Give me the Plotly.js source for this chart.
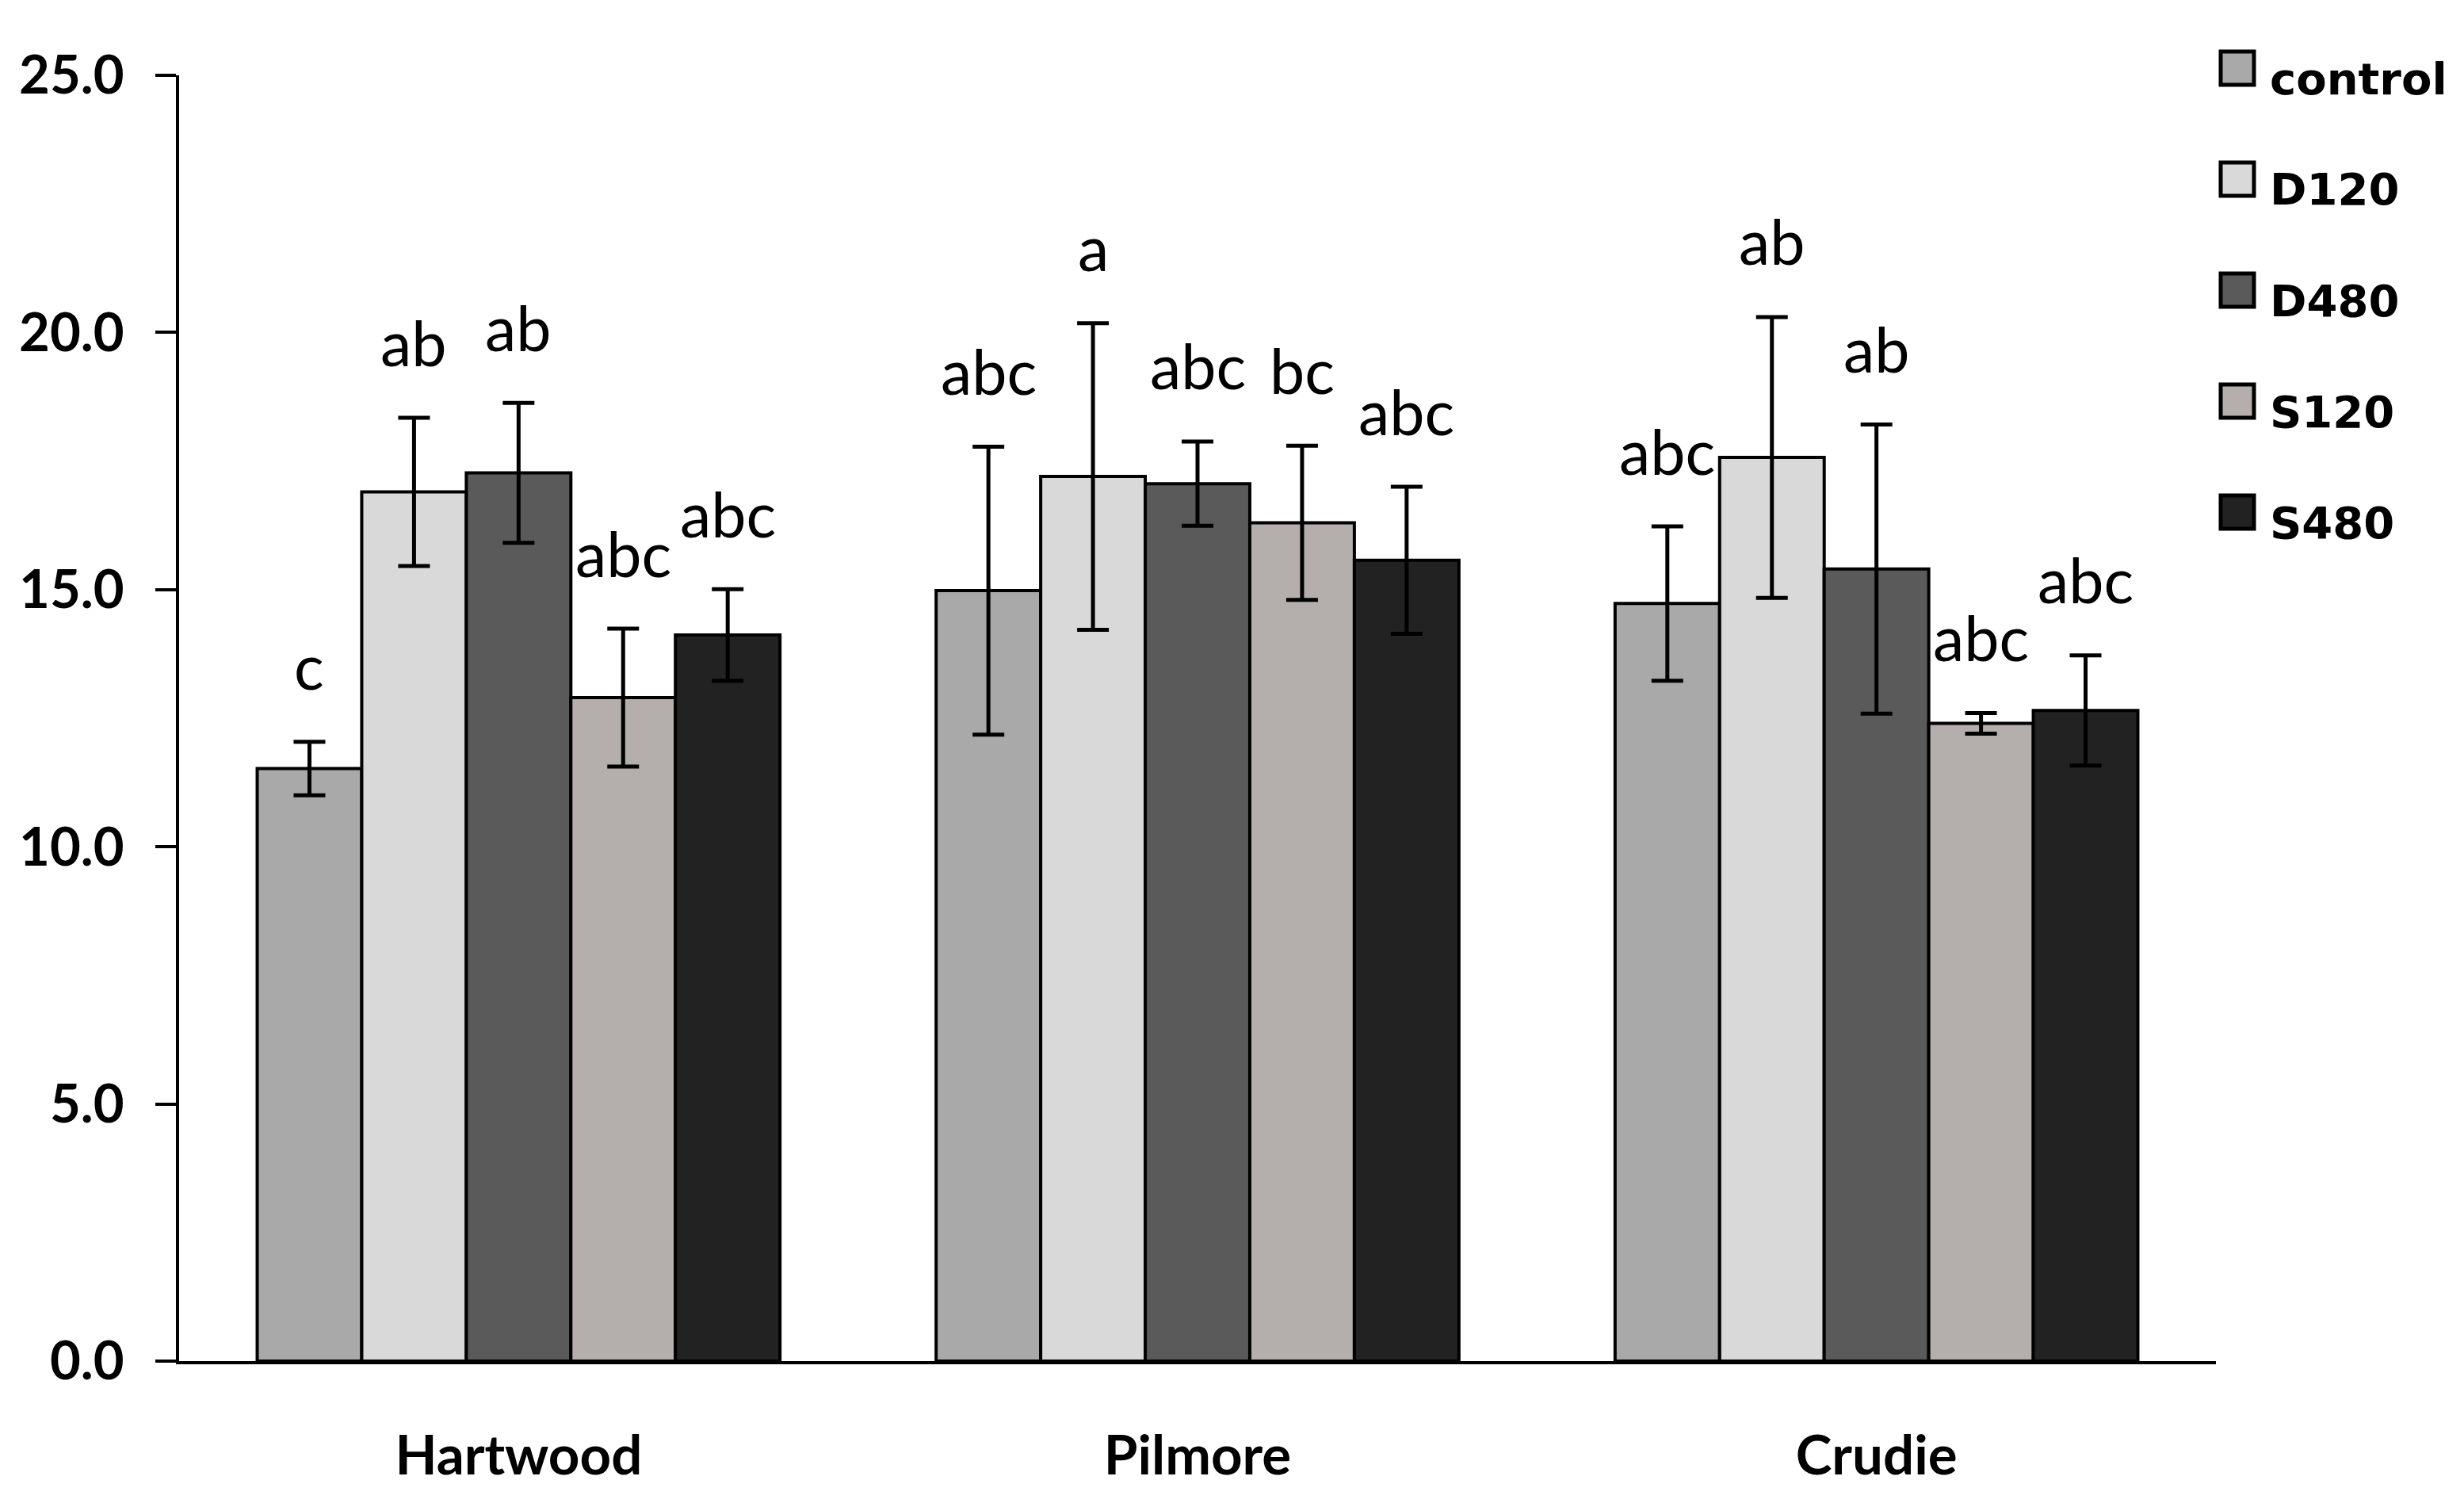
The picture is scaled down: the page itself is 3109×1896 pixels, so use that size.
<!DOCTYPE html>
<html><head><meta charset="utf-8">
<script src="https://cdn.plot.ly/plotly-3.0.1.min.js"></script>
<style>html,body{margin:0;padding:0;background:#fff}#chart{width:3109px;height:1896px}</style>
</head><body><div id="chart"></div>
<script>
// ---- data ----
const sites = ['Hartwood', 'Pilmore', 'Crudie'];
const treatments = ['control', 'D120', 'D480', 'S120', 'S480'];

const controlMean = [11.52, 14.98, 14.73];
const controlErr  = [0.52, 2.80, 1.50];
const d120Mean    = [16.90, 17.20, 17.57];
const d120Err     = [1.44, 2.98, 2.73];
const d480Mean    = [17.27, 17.06, 15.40];
const d480Err     = [1.36, 0.82, 2.81];
const s120Mean    = [12.90, 16.30, 12.40];
const s120Err     = [1.34, 1.50, 0.20];
const s480Mean    = [14.12, 15.57, 12.65];
const s480Err     = [0.89, 1.43, 1.07];

const controlLetters = ['c', 'abc', 'abc'];
const d120Letters    = ['ab', 'a', 'ab'];
const d480Letters    = ['ab', 'abc', 'ab'];
const s120Letters    = ['abc', 'bc', 'abc'];
const s480Letters    = ['abc', 'abc', 'abc'];

const yTickVals = [0, 5, 10, 15, 20, 25];

// ---- styles ----
const colors = ['#a9a9a9', '#d9d9d9', '#5a5a5a', '#b4afac', '#222222'];
const W = 3109, H = 1896;
const M = {l: 226, r: 313, t: 95, b: 179};
const BARGAP = 0.23;

const means = [controlMean, d120Mean, d480Mean, s120Mean, s480Mean];
const errs = [controlErr, d120Err, d480Err, s120Err, s480Err];
const letters = [controlLetters, d120Letters, d480Letters, s120Letters, s480Letters];

const traces = treatments.map((name, j) => ({
  type: 'bar',
  name: name,
  x: sites,
  y: means[j],
  marker: {color: colors[j], line: {color: '#000', width: 4}},
  error_y: {type: 'data', array: errs[j], visible: true, color: '#000', thickness: 5, width: 20},
  showlegend: false,
  hoverinfo: 'skip'
}));

const annotations = [];
const barW = (1 - BARGAP) / treatments.length;
treatments.forEach((name, j) => {
  sites.forEach((s, i) => {
    annotations.push({
      xref: 'x', yref: 'y',
      x: i + (j - (treatments.length - 1) / 2) * barW,
      y: means[j][i] + errs[j][i],
      yshift: 96,
      text: letters[j][i],
      showarrow: false,
      xanchor: 'center', yanchor: 'middle',
      font: {family: 'Lato', size: 79, color: '#000'}
    });
  });
});

// custom legend (paper coordinates)
const plotW = W - M.l - M.r, plotH = H - M.t - M.b;
const px2x = p => (p - M.l) / plotW;
const px2y = p => (H - M.b - p) / plotH;
const shapes = [];
treatments.forEach((name, k) => {
  const rowY = 95 + k * 140;
  shapes.push({
    type: 'rect', xref: 'paper', yref: 'paper',
    x0: px2x(2802), x1: px2x(2844),
    y0: px2y(rowY - 30), y1: px2y(rowY + 12),
    fillcolor: colors[k], line: {color: '#000', width: 5}
  });
  annotations.push({
    xref: 'paper', yref: 'paper',
    x: px2x(2862), y: px2y(rowY + 4),
    text: name, showarrow: false,
    xanchor: 'left', yanchor: 'middle',
    font: {family: 'DejaVu Sans', size: 56, weight: 'bold', color: '#000'}
  });
});

const layout = {
  width: W, height: H,
  margin: M,
  paper_bgcolor: '#fff', plot_bgcolor: '#fff',
  barmode: 'group', bargap: BARGAP, bargroupgap: 0,
  showlegend: false,
  xaxis: {
    type: 'category', range: [-0.5, 2.5],
    showline: true, linecolor: '#000', linewidth: 4,
    ticks: '', showgrid: false, zeroline: false,
    tickfont: {family: 'Lato', size: 69, weight: 'bold', color: '#000'},
    ticklabelstandoff: 56
  },
  yaxis: {
    range: [0, 25], tickvals: yTickVals, tickformat: '.1f',
    ticks: 'outside', ticklen: 26, tickwidth: 4, tickcolor: '#000',
    showline: true, linecolor: '#000', linewidth: 4,
    showgrid: false, zeroline: false,
    tickfont: {family: 'Lato', size: 67, weight: 'bold', color: '#000'},
    ticklabelstandoff: 26
  },
  annotations: annotations,
  shapes: shapes
};

Plotly.newPlot('chart', traces, layout, {staticPlot: true});
</script>
</body></html>
